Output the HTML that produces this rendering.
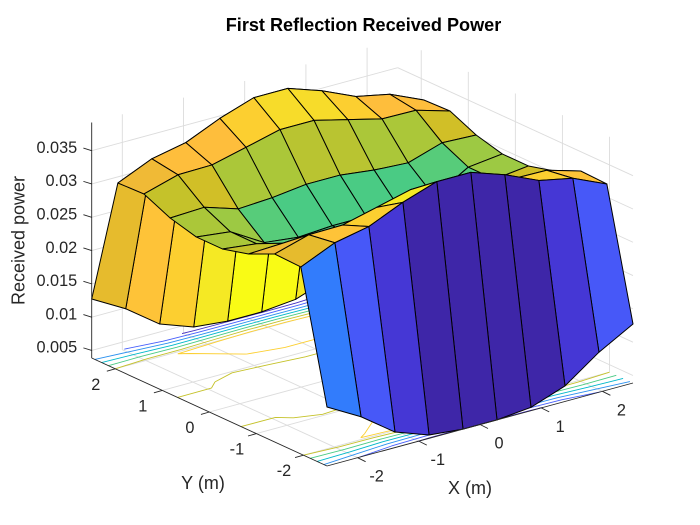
<!DOCTYPE html>
<html lang="en">
<head>
<meta charset="utf-8">
<title>First Reflection Received Power</title>
<style>
html,body{margin:0;padding:0;background:#fff;}
#chart{display:block;width:700px;height:525px;font-family:"Liberation Sans",Arial,sans-serif;}
.tick{font-size:16.3px;fill:#262626;}
.axis-title{font-size:18px;fill:#262626;}
.chart-title{font-size:18.1px;font-weight:bold;fill:#000;}
</style>
</head>
<body>
<svg id="chart" xmlns="http://www.w3.org/2000/svg" width="700" height="525" viewBox="0 0 700 525">
  <rect x="0" y="0" width="700" height="525" fill="#fff"/>
  <g id="grid"></g>
  <g id="contours"></g>
  <g id="surface"></g>
  <g id="axes"></g>
  <g id="labels"></g>
  <text class="chart-title" x="363.5" y="31" text-anchor="middle">First Reflection Received Power</text>
  <text class="axis-title" x="470" y="494" text-anchor="middle">X (m)</text>
  <text class="axis-title" x="203" y="489" text-anchor="middle">Y (m)</text>
  <text class="axis-title" x="24.5" y="240.5" text-anchor="middle" transform="rotate(-90 24.5 240.5)">Received power</text>
</svg>
<script>
var gridX = [-2.5,-1.944,-1.389,-0.833,-0.278,0.278,0.833,1.389,1.944,2.5];
var gridY = [-2.5,-1.944,-1.389,-0.833,-0.278,0.278,0.833,1.389,1.944,2.5];
var powerRow0 = [0.01273,0.00988,0.00620,0.00437,0.00387,0.00387,0.00437,0.00620,0.00988,0.01273];
var powerRow1 = [0.03195,0.03420,0.03525,0.03750,0.03923,0.03923,0.03750,0.03525,0.03420,0.03195];
var powerRow2 = [0.03210,0.03360,0.03369,0.03495,0.03623,0.03623,0.03495,0.03369,0.03360,0.03210];
var powerRow3 = [0.03030,0.03052,0.02889,0.02919,0.02982,0.02982,0.02919,0.02889,0.03052,0.03030];
var powerRow4 = [0.02925,0.02865,0.02564,0.02505,0.02540,0.02540,0.02505,0.02564,0.02865,0.02925];
var powerRow5 = [0.02925,0.02865,0.02564,0.02505,0.02540,0.02540,0.02505,0.02564,0.02865,0.02925];
var powerRow6 = [0.03030,0.03052,0.02889,0.02919,0.02982,0.02982,0.02919,0.02889,0.03052,0.03030];
var powerRow7 = [0.03210,0.03360,0.03369,0.03495,0.03623,0.03623,0.03495,0.03369,0.03360,0.03210];
var powerRow8 = [0.03195,0.03420,0.03525,0.03750,0.03923,0.03923,0.03750,0.03525,0.03420,0.03195];
var powerRow9 = [0.01273,0.00988,0.00620,0.00437,0.00387,0.00387,0.00437,0.00620,0.00988,0.01273];
var xTicks = [-2,-1,0,1,2];
var yTicks = [-2,-1,0,1,2];
var zTicks = [0.005,0.01,0.015,0.02,0.025,0.03,0.035];
var zTickLabels = ["0.005","0.01","0.015","0.02","0.025","0.03","0.035"];
var contourLevels = [0.005,0.01,0.015,0.02,0.025,0.03,0.035];
var xLimits = [-2.5,2.5];
var yLimits = [-2.5,2.5];
var zLimits = [0.00387,0.03923];

var parula = [[.2422,.1504,.6603],[.2504,.1650,.7076],[.2578,.1818,.7511],[.2647,.1978,.7952],[.2706,.2147,.8364],[.2751,.2342,.8710],[.2783,.2559,.8991],[.2803,.2782,.9221],[.2813,.3006,.9414],[.2810,.3228,.9579],[.2795,.3447,.9717],[.2760,.3667,.9829],[.2699,.3892,.9906],[.2602,.4123,.9952],[.2440,.4358,.9988],[.2206,.4603,.9973],[.1963,.4847,.9892],[.1834,.5074,.9798],[.1786,.5289,.9682],[.1764,.5499,.9520],[.1687,.5703,.9359],[.1540,.5902,.9218],[.1460,.6091,.9079],[.1380,.6276,.8973],[.1248,.6459,.8883],[.1113,.6635,.8763],[.0952,.6798,.8598],[.0689,.6948,.8394],[.0297,.7082,.8163],[.0036,.7197,.7917],[.0067,.7301,.7660],[.0433,.7411,.7394],[.0964,.7500,.7120],[.1408,.7584,.6842],[.1717,.7670,.6554],[.1938,.7758,.6251],[.2161,.7843,.5923],[.2470,.7918,.5567],[.2906,.7973,.5188],[.3406,.8008,.4789],[.3909,.8029,.4354],[.4456,.8024,.3909],[.5044,.7993,.3480],[.5616,.7942,.3045],[.6174,.7876,.2612],[.6720,.7793,.2227],[.7242,.7698,.1910],[.7738,.7598,.1646],[.8203,.7498,.1535],[.8634,.7406,.1596],[.9035,.7330,.1774],[.9393,.7288,.2100],[.9728,.7298,.2394],[.9956,.7434,.2371],[.9970,.7659,.2199],[.9952,.7893,.2028],[.9892,.8136,.1885],[.9786,.8386,.1766],[.9676,.8639,.1643],[.9610,.8890,.1537],[.9597,.9135,.1423],[.9628,.9373,.1265],[.9691,.9606,.1064],[.9769,.9839,.0805]];

var powerRows = [powerRow0,powerRow1,powerRow2,powerRow3,powerRow4,powerRow5,powerRow6,powerRow7,powerRow8,powerRow9];
var SVGNS = "http://www.w3.org/2000/svg";

function screenX(x,y){ return 362.35 + 61.2*x - 47.06*y; }
function screenY(x,y,z){ return 370.5 - 16.6*x - 21.6*y - (z-zLimits[0])*6660; }
function pt(x,y,z){ return screenX(x,y).toFixed(2)+","+screenY(x,y,z).toFixed(2); }
function colorOf(z){
  var t=(z-zLimits[0])/(zLimits[1]-zLimits[0]);
  var k=Math.max(0,Math.min(63,Math.floor(t*64)));
  var c=parula[k];
  return "rgb("+Math.round(c[0]*255)+","+Math.round(c[1]*255)+","+Math.round(c[2]*255)+")";
}
function make(tag,parent){
  var el=document.createElementNS(SVGNS,tag);
  parent.appendChild(el);
  return el;
}

var gridGroup=document.getElementById("grid");
var contourGroup=document.getElementById("contours");
var surfaceGroup=document.getElementById("surface");
var axesGroup=document.getElementById("axes");
var labelGroup=document.getElementById("labels");

function gridLine(x1,y1,z1,x2,y2,z2){
  var l=make("line",gridGroup);
  
  
  l.setAttribute("x1",screenX(x1,y1));
  l.setAttribute("y1",screenY(x1,y1,z1));
  l.setAttribute("x2",screenX(x2,y2));
  l.setAttribute("y2",screenY(x2,y2,z2));
  l.setAttribute("stroke","#dcdcdc");
  l.setAttribute("stroke-width","0.9");
}
xTicks.forEach(function(x){
  gridLine(x,yLimits[0],zLimits[0],x,yLimits[1],zLimits[0]);
  gridLine(x,yLimits[1],zLimits[0],x,yLimits[1],zLimits[1]);
});
yTicks.forEach(function(y){
  gridLine(xLimits[0],y,zLimits[0],xLimits[1],y,zLimits[0]);
  gridLine(xLimits[1],y,zLimits[0],xLimits[1],y,zLimits[1]);
});
zTicks.forEach(function(z){
  gridLine(xLimits[0],yLimits[1],z,xLimits[1],yLimits[1],z);
  gridLine(xLimits[1],yLimits[1],z,xLimits[1],yLimits[0],z);
});

/* floor contours (marching squares) */
contourLevels.forEach(function(level){
  var d="";
  for(var i=0;i<gridY.length-1;i++){
    for(var j=0;j<gridX.length-1;j++){
      var corners=[[gridX[j],gridY[i],powerRows[i][j]],[gridX[j+1],gridY[i],powerRows[i][j+1]],[gridX[j+1],gridY[i+1],powerRows[i+1][j+1]],[gridX[j],gridY[i+1],powerRows[i+1][j]]];
      var hits=[];
      for(var e=0;e<4;e++){
        var a=corners[e],b=corners[(e+1)%4];
        if((a[2]<level)!==(b[2]<level)){
          var f=(level-a[2])/(b[2]-a[2]);
          hits.push([a[0]+f*(b[0]-a[0]),a[1]+f*(b[1]-a[1])]);
        }
      }
      for(var h=0;h+1<hits.length;h+=2){
        d+="M"+pt(hits[h][0],hits[h][1],zLimits[0])+"L"+pt(hits[h+1][0],hits[h+1][1],zLimits[0]);
      }
    }
  }
  var p=make("path",contourGroup);
  
  
  p.setAttribute("d",d);
  p.setAttribute("fill","none");
  p.setAttribute("stroke",colorOf(level));
  p.setAttribute("stroke-width","0.9");
});

/* surface faces, far to near; each face is coloured by its lowest-index corner */
for(var i=gridY.length-2;i>=0;i--){
  for(var j=gridX.length-2;j>=0;j--){
    var face=make("polygon",surfaceGroup);
    
    
    face.setAttribute("points",[pt(gridX[j],gridY[i],powerRows[i][j]),pt(gridX[j+1],gridY[i],powerRows[i][j+1]),pt(gridX[j+1],gridY[i+1],powerRows[i+1][j+1]),pt(gridX[j],gridY[i+1],powerRows[i+1][j])].join(" "));
    face.setAttribute("fill",colorOf(powerRows[i][j]));
    face.setAttribute("stroke","#000");
    face.setAttribute("stroke-width","1");
    face.setAttribute("stroke-linejoin","round");
  }
}

function axisLine(name,x1,y1,x2,y2){
  var l=make("line",axesGroup);
  
  
  l.setAttribute("x1",x1);
  l.setAttribute("y1",y1);
  l.setAttribute("x2",x2);
  l.setAttribute("y2",y2);
  l.setAttribute("stroke","#262626");
  l.setAttribute("stroke-width","0.9");
}
function tickLabel(name,txt,x,y,anchor){
  var t=make("text",labelGroup);
  
  
  t.setAttribute("class","tick");
  t.setAttribute("x",x);
  t.setAttribute("y",y);
  t.setAttribute("text-anchor",anchor);
  t.textContent=txt;
}

axisLine("x-axis-line",screenX(xLimits[0],yLimits[0]),screenY(xLimits[0],yLimits[0],zLimits[0]),screenX(xLimits[1],yLimits[0]),screenY(xLimits[1],yLimits[0],zLimits[0]));
axisLine("y-axis-line",screenX(xLimits[0],yLimits[1]),screenY(xLimits[0],yLimits[1],zLimits[0]),screenX(xLimits[0],yLimits[0]),screenY(xLimits[0],yLimits[0],zLimits[0]));
axisLine("z-axis-line",screenX(xLimits[0],yLimits[1]),screenY(xLimits[0],yLimits[1],zLimits[0]),screenX(xLimits[0],yLimits[1]),screenY(xLimits[0],yLimits[1],zLimits[1]));

xTicks.forEach(function(x){
  var ax=screenX(x,yLimits[0]),ay=screenY(x,yLimits[0],zLimits[0]);
  axisLine("x-tick",ax,ay,ax+8,ay+4);
  tickLabel("x-tick-label",String(x),ax+19,ay+24,"middle");
});
yTicks.forEach(function(y){
  var ax=screenX(xLimits[0],y),ay=screenY(xLimits[0],y,zLimits[0]);
  axisLine("y-tick",ax,ay,ax-8.4,ay+2.4);
  tickLabel("y-tick-label",String(y),ax-19.5,ay+21,"middle");
});
zTicks.forEach(function(z,k){
  var ax=screenX(xLimits[0],yLimits[1]),ay=screenY(xLimits[0],yLimits[1],z);
  axisLine("z-tick",ax,ay,ax-8.3,ay-2.6);
  tickLabel("z-tick-label",zTickLabels[k],ax-14.5,ay+2.2,"end");
});
</script>
</body>
</html>
